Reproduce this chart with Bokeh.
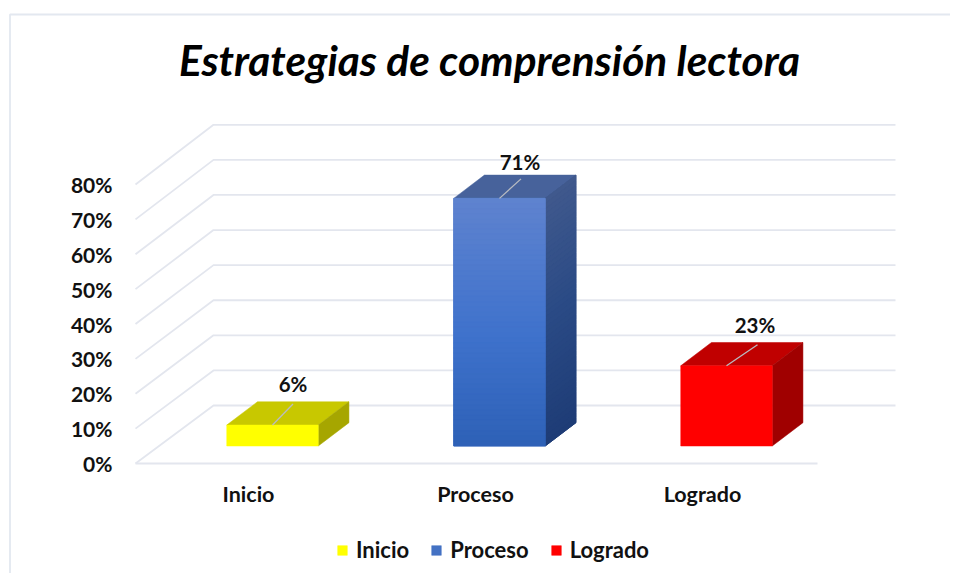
from bokeh.plotting import figure
from bokeh.models import FixedTicker, Label, Legend, LegendItem, LinearAxis, ColumnDataSource
from bokeh.core.properties import value
from bokeh.embed import file_html
from bokeh.resources import INLINE

categories = ["Inicio", "Proceso", "Logrado"]
values = [6, 71, 23]
data_labels = ["6%", "71%", "23%"]
y_ticks = [0, 10, 20, 30, 40, 50, 60, 70, 80]
front_colors = ["#FFFF00", "#4472C4", "#FF0000"]
top_colors = ["#C8C800", "#47629B", "#C00000"]
side_colors = ["#A6A600", "#2C4A82", "#A00000"]

FONT = "Lato"
W, H = 950, 573
PX_X, PX_Y = 227.0, 3.4875        # pixels per category / per percent
X0_IMG, Y0_IMG = 248.0, 463.0     # image position of category 0 on the floor's front edge

def ix(px):
    return (px - X0_IMG) / PX_X

def iy(py):
    return (Y0_IMG - py) / PX_Y

WALL_DX, WALL_DY = 78 / PX_X, 58 / PX_Y
WALL_SCALE = 35.09 / 34.875       # the back wall is drawn very slightly larger
DEPTH_DX, DEPTH_DY = 30.7 / PX_X, 23.3 / PX_Y
BAR_W = 91.5 / PX_X
BAR_SHIFT = 24 / PX_X
BAR_BASE = 17.5 / PX_Y
FLOOR_L, FLOOR_R = ix(135), ix(817)

p = figure(width=W, height=H, output_backend="svg", toolbar_location=None,
           x_range=(ix(0), ix(W)), y_range=(iy(H), iy(0)),
           min_border=0, min_border_left=0, min_border_right=0,
           min_border_top=0, min_border_bottom=0, x_axis_location=None, y_axis_location=None)
p.outline_line_color = None
p.background_fill_color = "white"
p.border_fill_color = "white"
p.grid.visible = False

# chart area border
p.line([ix(9.5), ix(9.5), ix(W)], [iy(H), iy(14), iy(14)],
       line_color="#E3E8F0", line_width=1.8)

# walls
GRID = "#E3E6EE"
for t in y_ticks:
    back = t * WALL_SCALE + WALL_DY
    p.line([FLOOR_L, FLOOR_L + WALL_DX, FLOOR_R + WALL_DX],
           [t, back, back], line_color=GRID, line_width=1.8)
p.line([FLOOR_L, FLOOR_R], [0, 0], line_color=GRID, line_width=1.8)

def hex2rgb(h):
    return tuple(int(h[i:i + 2], 16) for i in (1, 3, 5))

def ramp(stops, t):
    for (a, ca), (b, cb) in zip(stops, stops[1:]):
        if t <= b:
            f = (t - a) / (b - a)
            ra, rb = hex2rgb(ca), hex2rgb(cb)
            return "#%02x%02x%02x" % tuple(round(u + (v - u) * f) for u, v in zip(ra, rb))
    return stops[-1][1]

BLUE_FRONT = [(0, "#5F83CF"), (0.55, "#3F72CC"), (1, "#2E61B7")]
BLUE_SIDE = [(0, "#40598D"), (0.5, "#2A4A85"), (1, "#1E3C76")]
N = 48

front_renderers = []
for i, (v, fc, tc, sc) in enumerate(zip(values, front_colors, top_colors, side_colors)):
    l = i + BAR_SHIFT - BAR_W / 2
    r = l + BAR_W
    b = BAR_BASE
    t = BAR_BASE + v
    # top face
    p.patch([l, r, r + DEPTH_DX, l + DEPTH_DX], [t, t, t + DEPTH_DY, t + DEPTH_DY],
            fill_color=tc, line_color=tc, line_width=0.5)
    # side face
    p.patch([r, r + DEPTH_DX, r + DEPTH_DX, r], [b, b + DEPTH_DY, t + DEPTH_DY, t],
            fill_color=sc, line_color=sc, line_width=0.5)
    fr = p.quad(left=l, right=r, bottom=b, top=t, fill_color=fc, line_color=fc, line_width=0.5)
    front_renderers.append(fr)
    if fc == "#4472C4":
        dy = v / N
        for k in range(N):
            yl, yh = t - (k + 1) * dy, t - k * dy
            frac = (k + 0.5) / N
            col = ramp(BLUE_SIDE, frac)
            p.patch([r, r + DEPTH_DX, r + DEPTH_DX, r],
                    [yl, yl + DEPTH_DY, yh + DEPTH_DY, yh],
                    fill_color=col, line_color=col, line_width=1)
        for k in range(N):
            yl, yh = t - (k + 1) * dy, t - k * dy
            frac = (k + 0.5) / N
            col = ramp(BLUE_FRONT, frac)
            p.quad(left=l, right=r, bottom=yl, top=yh, fill_color=col, line_color=col, line_width=1)

# data labels and their leader lines
label_dx = [45 / PX_X, 45 / PX_X, 53 / PX_X]
leader_dx = [20.5 / PX_X, 21.5 / PX_X, 31 / PX_X]
leader_dy = [21 / PX_Y, 19.5 / PX_Y, 21 / PX_Y]
label_dy = [41 / PX_Y, 36.5 / PX_Y, 40.5 / PX_Y]
for i, v in enumerate(values):
    cx = i + BAR_SHIFT
    t = BAR_BASE + v
    p.line([cx, cx + leader_dx[i]], [t, t + leader_dy[i]], line_color="#B9BCC2", line_width=1.3)
src = ColumnDataSource(dict(
    x=[i + BAR_SHIFT + label_dx[i] - 24.5 / PX_X for i in range(3)],
    y=[BAR_BASE + values[i] + label_dy[i] for i in range(3)],
    text=data_labels))
p.text(x="x", y="y", text="text", source=src, text_font=value(FONT), text_font_style="bold",
       text_font_size="20.5px", text_color="#111111", text_align="center", text_baseline="middle")

# axes
yax = LinearAxis(fixed_location=FLOOR_L, ticker=FixedTicker(ticks=y_ticks),
                 major_label_overrides={t: f"{t}%" for t in y_ticks})
yax.axis_line_color = None
yax.major_tick_line_color = None
yax.minor_tick_line_color = None
yax.major_label_standoff = 17
yax.major_label_text_font = FONT
yax.major_label_text_font_style = "bold"
yax.major_label_text_font_size = "21px"
yax.major_label_text_color = "#111111"
p.add_layout(yax, "left")

xax = LinearAxis(fixed_location=0, ticker=FixedTicker(ticks=[0, 1, 2]),
                 major_label_overrides={i: c for i, c in enumerate(categories)})
xax.axis_line_color = None
xax.major_tick_line_color = None
xax.minor_tick_line_color = None
xax.major_label_standoff = 11
xax.major_label_text_font = FONT
xax.major_label_text_font_style = "bold"
xax.major_label_text_font_size = "21.5px"
xax.major_label_text_color = "#111111"
p.add_layout(xax, "below")

# title
p.add_layout(Label(x=ix(489), y=iy(59), text="Estrategias de comprensión lectora",
                   text_font=FONT, text_font_style="bold italic", text_font_size="42.4px",
                   text_color="#000000", text_align="center", text_baseline="middle"))

# legend
legend = Legend(items=[LegendItem(label=c, renderers=[r]) for c, r in zip(categories, front_renderers)],
                orientation="horizontal", location=(336, 10),
                background_fill_alpha=0, border_line_color=None,
                glyph_width=12, glyph_height=12, label_standoff=8, spacing=21,
                label_text_font=FONT, label_text_font_style="bold", label_text_font_size="22px",
                label_text_color="#111111", margin=0, padding=0)
p.add_layout(legend, "center")

open("out.html", "w").write(file_html(p, INLINE))
